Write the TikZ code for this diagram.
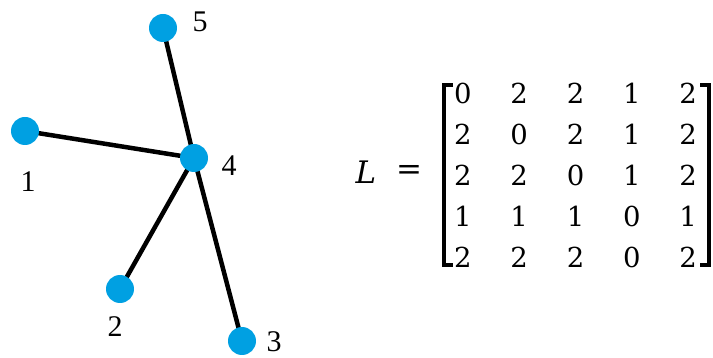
\documentclass[tikz,border=0pt]{standalone}
\usepackage{fontspec}
\setmainfont{Liberation Serif}
\newfontfamily\matfont{DejaVu Serif}
\usetikzlibrary{matrix}
\definecolor{nodeblue}{RGB}{0,160,226}
\begin{document}
\begin{tikzpicture}[x=1pt,y=-1pt,
  vert/.style={circle,fill=nodeblue,minimum size=28pt,inner sep=0pt},
  edge/.style={line width=4.5pt,black},
  lab/.style={font=\fontsize{30}{32}\selectfont,inner sep=0pt},
  ent/.style={font=\matfont\fontsize{27.5}{30}\selectfont,inner sep=0pt,minimum width=56.3pt,minimum height=41pt,anchor=center},
  brack/.style={line width=4pt,black}]
\useasboundingbox (0,0) rectangle (713,358);
\coordinate (c5) at (163,28);
\coordinate (c1) at (25,131);
\coordinate (c4) at (194,158);
\coordinate (c2) at (120,289);
\coordinate (c3) at (242,341);
\draw[edge] (c5) -- (c4);
\draw[edge] (c1) -- (c4);
\draw[edge] (c2) -- (c4);
\draw[edge] (c3) -- (c4);
\node[vert] (n5) at (c5) {};
\node[vert] (n1) at (c1) {};
\node[vert] (n4) at (c4) {};
\node[vert] (n2) at (c2) {};
\node[vert] (n3) at (c3) {};
\node[lab] (l5) at (200,22) {5};
\node[lab] (l1) at (28,182) {1};
\node[lab] (l4) at (229,166) {4};
\node[lab] (l2) at (115,327) {2};
\node[lab] (l3) at (274,342) {3};
\node[font=\matfont\itshape\fontsize{31}{33}\selectfont,inner sep=0pt] (L) at (366,172) {L};
\node[font=\matfont\fontsize{31}{33}\selectfont,inner sep=0pt] (eq) at (409,172) {=};
\matrix (M) [matrix of nodes, nodes={ent}, row sep=0pt, column sep=0pt, inner sep=0pt] at (575.5,175) {
0 & 2 & 2 & 1 & 2 \\
2 & 0 & 2 & 1 & 2 \\
2 & 2 & 0 & 1 & 2 \\
1 & 1 & 1 & 0 & 1 \\
2 & 2 & 2 & 0 & 2 \\
};
\coordinate (lt) at (453,85);
\coordinate (lb) at (453,265);
\coordinate (rt) at (700,85);
\coordinate (rb) at (700,265);
\draw[brack] (lt) -- (lt -| 444,0) -- (lb -| 444,0) -- (lb);
\draw[brack] (rt) -- (rt -| 709,0) -- (rb -| 709,0) -- (rb);
\end{tikzpicture}
\end{document}
